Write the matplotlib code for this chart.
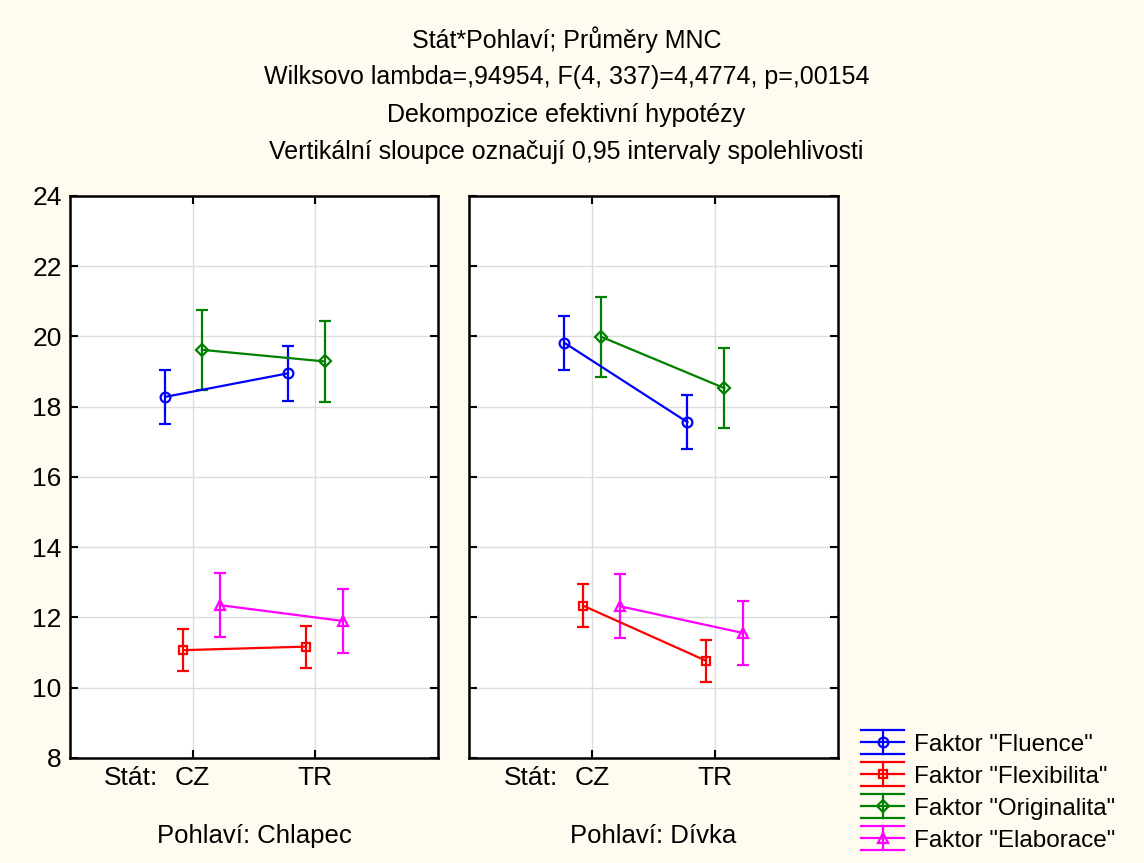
import matplotlib
matplotlib.use('Agg')
import matplotlib.pyplot as plt
from matplotlib.lines import Line2D
from matplotlib.legend_handler import HandlerBase

plt.rcParams['font.family'] = ['Liberation Sans', 'DejaVu Sans']

# data: [Chlapec, Divka] x [CZ, TR]
states = ['CZ', 'TR']
genders = ['Chlapec', 'Dívka']
factor_labels = ['Faktor "Fluence"', 'Faktor "Flexibilita"',
                 'Faktor "Originalita"', 'Faktor "Elaborace"']

fluence_mean = [[18.28, 18.95], [19.82, 17.56]]
fluence_ci = [[0.77, 0.78], [0.77, 0.77]]
flex_mean = [[11.07, 11.17], [12.34, 10.77]]
flex_ci = [[0.59, 0.60], [0.60, 0.60]]
orig_mean = [[19.62, 19.29], [19.99, 18.53]]
orig_ci = [[1.14, 1.15], [1.14, 1.14]]
elab_mean = [[12.35, 11.90], [12.32, 11.56]]
elab_ci = [[0.91, 0.91], [0.91, 0.91]]

means = [fluence_mean, flex_mean, orig_mean, elab_mean]
cis = [fluence_ci, flex_ci, orig_ci, elab_ci]
colors = ['#0000ff', '#ff0000', '#008000', '#ff00ff']
markers = ['o', 's', 'D', '^']
msizes = [7, 6, 6, 7]
offsets = [-0.225, -0.075, 0.075, 0.225]

title_lines = ['Stát*Pohlaví; Průměry MNC',
               'Wilksovo lambda=,94954, F(4, 337)=4,4774, p=,00154',
               'Dekompozice efektivní hypotézy',
               'Vertikální sloupce označují 0,95 intervaly spolehlivosti']

bg = '#fffbf0'

fig = plt.figure(figsize=(11.44, 8.63), dpi=100, facecolor=bg)
ax1 = fig.add_axes([0.0612, 0.1217, 0.3217, 0.6512])
ax2 = fig.add_axes([0.41, 0.1217, 0.3226, 0.6512])

for g, ax in enumerate([ax1, ax2]):
    ax.set_facecolor('white')
    for i in range(4):
        xs = [k + 1 + offsets[i] for k in range(len(states))]
        ax.errorbar(xs, means[i][g], yerr=cis[i][g], color=colors[i],
                    marker=markers[i], ms=msizes[i], mfc='none', mec=colors[i],
                    mew=1.6, lw=1.6, elinewidth=1.6, capsize=4, capthick=1.6)
    ax.set_xlim(0, 3)
    ax.set_ylim(8, 24)
    ax.set_yticks(range(8, 25, 2))
    ax.set_xticks([0.5, 1, 2])
    ax.set_xticklabels(['Stát:'] + states)
    ax.grid(True, color='#dcdcdc', lw=1)
    ax.set_axisbelow(True)
    ax.tick_params(direction='in', length=6, width=1.5, top=True, right=True,
                   labelsize=19, pad=6)
    # no tick / grid for the "Stát:" label
    t0 = ax.xaxis.get_major_ticks()[0]
    t0.tick1line.set_visible(False)
    t0.tick2line.set_visible(False)
    t0.gridline.set_visible(False)
    for s in ax.spines.values():
        s.set_linewidth(1.8)
    ax.set_xlabel('Pohlaví: ' + genders[g], fontsize=18.5, labelpad=24)
    if g == 1:
        ax.tick_params(labelleft=False)

for j, line in enumerate(title_lines):
    fig.text(0.495, 0.9537 - j * 0.0432, line, ha='center', va='center', fontsize=18)


class HandlerCI(HandlerBase):
    def create_artists(self, legend, orig_handle, xdescent, ydescent,
                       width, height, fontsize, trans):
        c = orig_handle.get_color()
        x0 = -xdescent
        x1 = x0 + width
        xm = (x0 + x1) / 2
        yc = (height - ydescent) / 2
        d = 0.7 * height
        arts = []
        for y in (yc - d, yc, yc + d):
            arts.append(Line2D([x0, x1], [y, y], color=c, lw=1.6, transform=trans))
        arts.append(Line2D([xm, xm], [yc - d, yc + d], color=c, lw=1.6, transform=trans))
        arts.append(Line2D([xm], [yc], color=c, marker=orig_handle.get_marker(),
                           ms=orig_handle.get_markersize(), mfc='none', mec=c,
                           mew=1.6, transform=trans))
        return arts


handles = [Line2D([], [], color=colors[i], marker=markers[i], ms=msizes[i])
           for i in range(4)]
fig.legend(handles, factor_labels, loc='upper left', bbox_to_anchor=(0.753, 0.150),
           frameon=False, fontsize=17.5, handlelength=1.77, handletextpad=0.4,
           labelspacing=0.41, borderpad=0, borderaxespad=0,
           handler_map={Line2D: HandlerCI()})

fig.savefig('out.png', dpi=100, facecolor=bg)
